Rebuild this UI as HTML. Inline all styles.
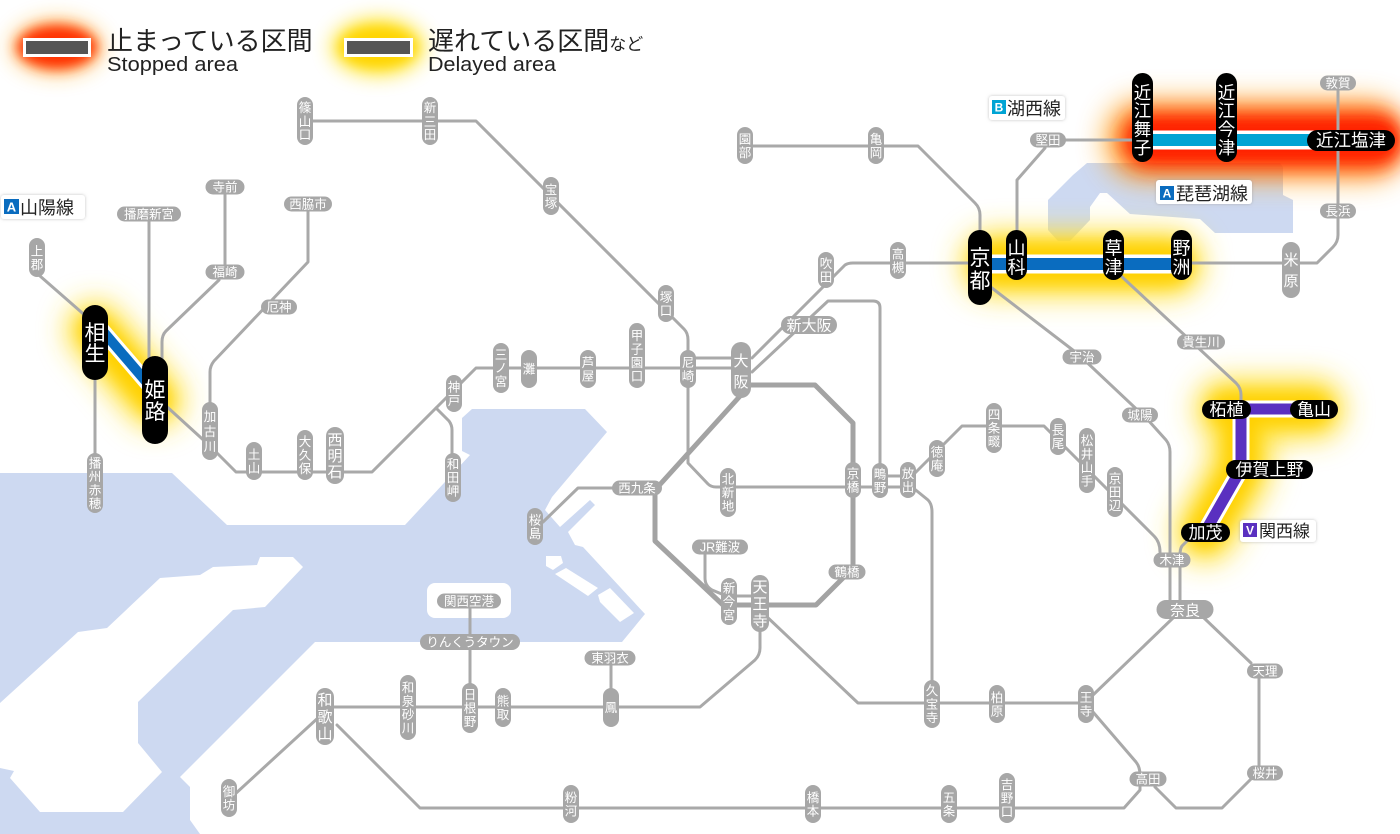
<!DOCTYPE html>
<html><head><meta charset="utf-8">
<style>
html,body{margin:0;padding:0;background:#fff;}
svg{display:block;}
text{font-family:"Liberation Sans","Noto Sans CJK JP",sans-serif;}
.gl{fill:none;stroke:#a9a9a9;stroke-width:3;stroke-linejoin:round;stroke-linecap:round;}
.gp rect{fill:#a7a7a7;}
.gp text{fill:#fff;font-size:12.5px;text-anchor:middle;}
.gb rect{fill:#a7a7a7;}
.gb text{fill:#fff;font-size:15px;text-anchor:middle;}
.bp rect{fill:#000;}
.bp text{fill:#fff;text-anchor:middle;}
</style></head>
<body>
<svg width="1400" height="834" viewBox="0 0 1400 834" xmlns="http://www.w3.org/2000/svg">
<defs>
<filter id="b6" filterUnits="userSpaceOnUse" x="0" y="0" width="1400" height="834"><feGaussianBlur stdDeviation="6"/></filter>
<filter id="b8" filterUnits="userSpaceOnUse" x="0" y="0" width="1400" height="834"><feGaussianBlur stdDeviation="8"/></filter>
<filter id="b10" filterUnits="userSpaceOnUse" x="0" y="0" width="1400" height="834"><feGaussianBlur stdDeviation="10"/></filter>
<filter id="b14" filterUnits="userSpaceOnUse" x="0" y="0" width="1400" height="834"><feGaussianBlur stdDeviation="14"/></filter>
<filter id="sh" x="-20%" y="-40%" width="140%" height="180%"><feDropShadow dx="0" dy="0" stdDeviation="1.5" flood-color="#999" flood-opacity="0.6"/></filter>
</defs>
<rect width="1400" height="834" fill="#fff"/>

<!-- water -->
<g fill="#cdd9f1">
<polygon points="0,473 172,473 227,525 405,525 470,455 462,451 462,418 472,409 585,409 607,432 552,497 545,510 560,527 590,500 595,505 568,532 575,545 583,547 645,614 622,642 315,642 180,777 190,787 190,820 200,834 0,834"/>
<polygon points="1087,163 1280,163 1283,167 1283,195 1293,200 1293,233 1215,233 1200,219 1130,214 1107,193 1100,193 1090,207 1090,220 1070,241 1058,241 1048,230 1048,200 1073,175"/>
</g>
<g fill="#fff">
<polygon points="0,703 78,632 107,628 160,578 200,575 213,567 257,565 260,557 293,557 303,567 265,607 233,610 138,702 138,743 162,772 123,812 40,812 10,778 14,771 0,768"/>
<rect x="427" y="583" width="84" height="35" rx="8"/>
<polygon points="546,556 561,556 563,563 553,570 546,566"/>
<polygon points="555,574 566,568 598,588 588,596"/>
<polygon points="598,595 610,588 634,613 620,622 600,602"/>
</g>

<!-- glows -->
<ellipse cx="57" cy="47" rx="46" ry="28" fill="#ffb020" opacity="0.6" filter="url(#b10)"/>
<ellipse cx="57" cy="47" rx="40" ry="22" fill="#ff3000" filter="url(#b6)"/>
<ellipse cx="378" cy="47" rx="46" ry="28" fill="#ffe000" opacity="0.8" filter="url(#b10)"/>
<ellipse cx="378" cy="47" rx="38" ry="20" fill="#ffd400" filter="url(#b6)"/>

<rect x="1105" y="100" width="300" height="80" rx="36" fill="#ff9a00" opacity="0.75" filter="url(#b14)"/>
<rect x="1122" y="112" width="280" height="56" rx="26" fill="#ff2600" filter="url(#b10)"/>
<rect x="1135" y="124" width="260" height="32" rx="16" fill="#ff2000" filter="url(#b6)"/>

<rect x="962" y="232" width="240" height="64" rx="30" fill="#ffe030" filter="url(#b14)"/>
<rect x="975" y="244" width="215" height="40" rx="20" fill="#ffd000" filter="url(#b8)"/>

<path d="M95,330 L155,400" stroke="#ffe030" stroke-width="56" stroke-linecap="round" fill="none" filter="url(#b14)"/>
<path d="M95,330 L155,400" stroke="#ffd000" stroke-width="30" stroke-linecap="round" fill="none" filter="url(#b8)"/>

<path d="M1226,409 H1314 M1241,409 V469 L1205,532" stroke="#ffe030" stroke-width="60" stroke-linecap="round" stroke-linejoin="round" fill="none" filter="url(#b14)"/>
<path d="M1226,409 H1314 M1241,409 V469 L1205,532" stroke="#ffd000" stroke-width="32" stroke-linecap="round" stroke-linejoin="round" fill="none" filter="url(#b8)"/>

<!-- gray lines -->
<g class="gl">
<path d="M312,121 H476 L684,329 Q688,333 688,340 V463 L708,484 Q711,487 716,487 H908"/>
<path d="M688,358 H741"/>
<path d="M741,368 H476 L448,396 L372,472 H236 L210,446 L165,405"/>
<path d="M436,408 L449,421 Q452,425 452,430 V460"/>
<path d="M40,276 L88,318"/>
<path d="M95,375 V460"/>
<path d="M149,214 V365"/>
<path d="M225,187 V272"/>
<path d="M219,280 L166,331 Q162,335 162,342 V365"/>
<path d="M308,204 V262 L214,361 Q210,366 210,372 V430"/>
<path d="M543,522 L578,488 H636"/>
<path d="M705,553 V578 Q705,586 712,590 L729,597"/>
<path d="M729,596 H760"/>
<path d="M765,615 L858,703 H1086"/>
<path d="M1093,695 L1173,618"/>
<path d="M1093,712 L1136,762 Q1140,767 1140,775 V790 L1124,808 H420 L337,725"/>
<path d="M1155,787 L1176,808 H1222 L1252,778"/>
<path d="M1259,773 V671"/>
<path d="M1204,618 L1251,663"/>
<path d="M334,707 H700 L755,660 Q760,655 760,648 V620"/>
<path d="M470,601 V700"/>
<path d="M611,658 V707"/>
<path d="M234,795 L319,717"/>
<path d="M912,487 L928,500 Q932,504 932,512 V705"/>
<path d="M910,478 L962,426 H1044 L1154,536 Q1160,542 1160,552"/>
<path d="M988,285 L1078,354 L1148,420 L1166,440 Q1170,445 1170,452 V605"/>
<path d="M1192,536 L1182,546 Q1180,549 1180,555 V605"/>
<path d="M1120,275 L1236,383 Q1241,388 1241,395 V405"/>
<path d="M1017,232 V180 L1045,148"/>
<path d="M1066,140 H1132"/>
<path d="M745,146 H918 L975,203 Q980,208 980,215 V232"/>
<path d="M752,358 L845,265 Q848,263 853,263 H970"/>
<path d="M752,372 L828,301 H873 Q880,301 880,308 V463"/>
<path d="M880,476 H908"/>
<path d="M1300,263 H1317 L1333,247 Q1338,242 1338,235 V83"/>
<path d="M1191,263 H1291"/>
<path d="M741,385 H815 L853,423 V568 L816,605 H723 L655,541 V490 L741,395" stroke="#a3a3a3" stroke-width="5"/>
</g>

<!-- colored bands -->
<g fill="none" stroke-linejoin="miter">
<path d="M980,264 H1181" stroke="#fff" stroke-width="19"/>
<path d="M980,264 H1181" stroke="#0a6cbf" stroke-width="12"/>
<path d="M1142,140 H1350" stroke="#fff" stroke-width="19"/>
<path d="M1142,140 H1350" stroke="#00a4d4" stroke-width="12"/>
<path d="M95,322 L155,392" stroke="#fff" stroke-width="16"/>
<path d="M95,322 L155,392" stroke="#0a6cbf" stroke-width="10"/>
<path d="M1226,409 H1314 M1241,409 V469 L1205,532" stroke="#fff" stroke-width="17"/>
<path d="M1226,409 H1314 M1241,409 V469 L1205,532" stroke="#5a30c0" stroke-width="11"/>
</g>

<!-- legend -->
<rect x="23" y="38" width="68" height="19" fill="#fff"/>
<rect x="26" y="41" width="62" height="13" fill="#555"/>
<rect x="344" y="38" width="69" height="19" fill="#fff"/>
<rect x="347" y="41" width="63" height="13" fill="#555"/>
<text x="107" y="50" font-size="26" fill="#222">止まっている区間</text>
<text x="107" y="71" font-size="20" fill="#222" textLength="131" lengthAdjust="spacingAndGlyphs">Stopped area</text>
<text x="428" y="50" font-size="26" fill="#222">遅れている区間<tspan font-size="17">など</tspan></text>
<text x="428" y="71" font-size="20" fill="#222" textLength="128" lengthAdjust="spacingAndGlyphs">Delayed area</text>

<!-- line name labels -->
<g>
<rect x="1" y="195" width="84" height="24" rx="3" fill="#fff" filter="url(#sh)"/>
<rect x="4" y="199" width="15" height="15" fill="#0a6cbf"/>
<text x="11.5" y="211.5" font-size="13" font-weight="bold" fill="#fff" text-anchor="middle">A</text>
<text x="20" y="214" font-size="18" fill="#222">山陽線</text>

<rect x="989" y="96" width="76" height="24" rx="3" fill="#fff" filter="url(#sh)"/>
<rect x="992" y="100" width="14" height="14" fill="#00a4d4"/>
<text x="999" y="111.5" font-size="12" font-weight="bold" fill="#fff" text-anchor="middle">B</text>
<text x="1007" y="115" font-size="18" fill="#222">湖西線</text>

<rect x="1156" y="180" width="96" height="24" rx="3" fill="#fff" filter="url(#sh)"/>
<rect x="1160" y="186" width="14" height="14" fill="#0a6cbf"/>
<text x="1167" y="197.5" font-size="12" font-weight="bold" fill="#fff" text-anchor="middle">A</text>
<text x="1176" y="200" font-size="18" fill="#222">琵琶湖線</text>

<rect x="1240" y="520" width="76" height="22" rx="3" fill="#fff" filter="url(#sh)"/>
<rect x="1243" y="523" width="14" height="14" fill="#5a30c0"/>
<text x="1250" y="534.5" font-size="12" font-weight="bold" fill="#fff" text-anchor="middle">V</text>
<text x="1259" y="537" font-size="17" fill="#222">関西線</text>
</g>

<!-- gray vertical pills -->
<g class="gp">
<rect x="297" y="97" width="16" height="48" rx="8"/><text><tspan x="305" y="112">篠</tspan><tspan x="305" y="126">山</tspan><tspan x="305" y="139">口</tspan></text>
<rect x="422" y="97" width="16" height="48" rx="8"/><text><tspan x="430" y="112">新</tspan><tspan x="430" y="126">三</tspan><tspan x="430" y="139">田</tspan></text>
<rect x="543" y="177" width="16" height="38" rx="8"/><text><tspan x="551" y="194">宝</tspan><tspan x="551" y="207.5">塚</tspan></text>
<rect x="658" y="285" width="16" height="37" rx="8"/><text><tspan x="666" y="301.5">塚</tspan><tspan x="666" y="315">口</tspan></text>
<rect x="680" y="350" width="16" height="38" rx="8"/><text><tspan x="688" y="367">尼</tspan><tspan x="688" y="380.5">崎</tspan></text>
<rect x="629" y="323" width="16" height="65" rx="8"/><text><tspan x="637" y="340">甲</tspan><tspan x="637" y="353.5">子</tspan><tspan x="637" y="367">園</tspan><tspan x="637" y="380.5">口</tspan></text>
<rect x="580" y="350" width="16" height="38" rx="8"/><text><tspan x="588" y="367">芦</tspan><tspan x="588" y="380.5">屋</tspan></text>
<rect x="521" y="350" width="16" height="38" rx="8"/><text><tspan x="529" y="373.7">灘</tspan></text>
<rect x="493" y="343" width="16" height="50" rx="8"/><text><tspan x="501" y="359">三</tspan><tspan x="501" y="372.7">ノ</tspan><tspan x="501" y="386">宮</tspan></text>
<rect x="446" y="375" width="16" height="37" rx="8"/><text><tspan x="454" y="391.5">神</tspan><tspan x="454" y="405">戸</tspan></text>
<rect x="445" y="453" width="16" height="49" rx="8"/><text><tspan x="453" y="468.7">和</tspan><tspan x="453" y="482.2">田</tspan><tspan x="453" y="495.7">岬</tspan></text>
<rect x="297" y="430" width="16" height="50" rx="8"/><text><tspan x="305" y="446.2">大</tspan><tspan x="305" y="459.7">久</tspan><tspan x="305" y="473.2">保</tspan></text>
<rect x="246" y="442" width="16" height="38" rx="8"/><text><tspan x="254" y="459">土</tspan><tspan x="254" y="472.5">山</tspan></text>
<rect x="202" y="402" width="16" height="58" rx="8"/><text font-size="13.5"><tspan x="210" y="421">加</tspan><tspan x="210" y="436">古</tspan><tspan x="210" y="451">川</tspan></text>
<rect x="87" y="453" width="16" height="60" rx="8"/><text><tspan x="95" y="467.5">播</tspan><tspan x="95" y="481">州</tspan><tspan x="95" y="494.5">赤</tspan><tspan x="95" y="508">穂</tspan></text>
<rect x="29" y="238" width="16" height="39" rx="8"/><text><tspan x="37" y="255.5">上</tspan><tspan x="37" y="269">郡</tspan></text>
<rect x="818" y="252" width="16" height="36" rx="8"/><text><tspan x="826" y="268">吹</tspan><tspan x="826" y="281.5">田</tspan></text>
<rect x="890" y="242" width="16" height="37" rx="8"/><text><tspan x="898" y="258.5">高</tspan><tspan x="898" y="272">槻</tspan></text>
<rect x="737" y="127" width="16" height="37" rx="8"/><text><tspan x="745" y="143.5">園</tspan><tspan x="745" y="157">部</tspan></text>
<rect x="868" y="127" width="16" height="37" rx="8"/><text><tspan x="876" y="143.5">亀</tspan><tspan x="876" y="157">岡</tspan></text>
<rect x="527" y="508" width="16" height="37" rx="8"/><text><tspan x="535" y="524.5">桜</tspan><tspan x="535" y="538">島</tspan></text>
<rect x="720" y="468" width="16" height="49" rx="8"/><text><tspan x="728" y="483.7">北</tspan><tspan x="728" y="497.2">新</tspan><tspan x="728" y="510.7">地</tspan></text>
<rect x="845" y="462" width="16" height="36" rx="8"/><text><tspan x="853" y="478">京</tspan><tspan x="853" y="491.5">橋</tspan></text>
<rect x="872" y="463" width="16" height="35" rx="8"/><text><tspan x="880" y="478.5">鴫</tspan><tspan x="880" y="492">野</tspan></text>
<rect x="900" y="462" width="16" height="36" rx="8"/><text><tspan x="908" y="478">放</tspan><tspan x="908" y="491.5">出</tspan></text>
<rect x="929" y="440" width="16" height="37" rx="8"/><text><tspan x="937" y="456.5">徳</tspan><tspan x="937" y="470">庵</tspan></text>
<rect x="986" y="403" width="16" height="50" rx="8"/><text><tspan x="994" y="419.2">四</tspan><tspan x="994" y="432.7">条</tspan><tspan x="994" y="446.2">畷</tspan></text>
<rect x="1050" y="418" width="16" height="37" rx="8"/><text><tspan x="1058" y="434.5">長</tspan><tspan x="1058" y="448">尾</tspan></text>
<rect x="1079" y="428" width="16" height="65" rx="8"/><text><tspan x="1087" y="445">松</tspan><tspan x="1087" y="458.5">井</tspan><tspan x="1087" y="472">山</tspan><tspan x="1087" y="485.5">手</tspan></text>
<rect x="1107" y="467" width="16" height="50" rx="8"/><text><tspan x="1115" y="483.2">京</tspan><tspan x="1115" y="496.7">田</tspan><tspan x="1115" y="510.2">辺</tspan></text>
<rect x="721" y="578" width="16" height="47" rx="8"/><text><tspan x="729" y="592.7">新</tspan><tspan x="729" y="606.2">今</tspan><tspan x="729" y="619.7">宮</tspan></text>
<rect x="924" y="680" width="16" height="48" rx="8"/><text><tspan x="932" y="695.2">久</tspan><tspan x="932" y="708.7">宝</tspan><tspan x="932" y="722.2">寺</tspan></text>
<rect x="989" y="685" width="16" height="38" rx="8"/><text><tspan x="997" y="702">柏</tspan><tspan x="997" y="715.5">原</tspan></text>
<rect x="1078" y="685" width="16" height="38" rx="8"/><text><tspan x="1086" y="702">王</tspan><tspan x="1086" y="715.5">寺</tspan></text>
<rect x="999" y="773" width="16" height="50" rx="8"/><text><tspan x="1007" y="789.2">吉</tspan><tspan x="1007" y="802.7">野</tspan><tspan x="1007" y="816.2">口</tspan></text>
<rect x="941" y="785" width="16" height="38" rx="8"/><text><tspan x="949" y="802">五</tspan><tspan x="949" y="815.5">条</tspan></text>
<rect x="805" y="785" width="16" height="38" rx="8"/><text><tspan x="813" y="802">橋</tspan><tspan x="813" y="815.5">本</tspan></text>
<rect x="563" y="785" width="16" height="38" rx="8"/><text><tspan x="571" y="802">粉</tspan><tspan x="571" y="815.5">河</tspan></text>
<rect x="221" y="779" width="16" height="38" rx="8"/><text><tspan x="229" y="796">御</tspan><tspan x="229" y="809.5">坊</tspan></text>
<rect x="400" y="675" width="16" height="65" rx="8"/><text><tspan x="408" y="692">和</tspan><tspan x="408" y="705.5">泉</tspan><tspan x="408" y="719">砂</tspan><tspan x="408" y="732.5">川</tspan></text>
<rect x="462" y="683" width="16" height="50" rx="8"/><text><tspan x="470" y="699.2">日</tspan><tspan x="470" y="712.7">根</tspan><tspan x="470" y="726.2">野</tspan></text>
<rect x="495" y="688" width="16" height="39" rx="8"/><text><tspan x="503" y="705.5">熊</tspan><tspan x="503" y="719">取</tspan></text>
<rect x="603" y="688" width="16" height="39" rx="8"/><text><tspan x="611" y="712.2">鳳</tspan></text>
</g>

<!-- bigger gray vertical pills -->
<g class="gb">
<rect x="326" y="427" width="18" height="57" rx="9"/><text font-size="14.5"><tspan x="335" y="445">西</tspan><tspan x="335" y="461">明</tspan><tspan x="335" y="477">石</tspan></text>
<rect x="1282" y="242" width="18" height="56" rx="9"/><text><tspan x="1291" y="265">米</tspan><tspan x="1291" y="286">原</tspan></text>
<rect x="751" y="575" width="18" height="57" rx="9"/><text><tspan x="760" y="592">天</tspan><tspan x="760" y="609">王</tspan><tspan x="760" y="626">寺</tspan></text>
<rect x="316" y="688" width="18" height="57" rx="9"/><text><tspan x="325" y="705">和</tspan><tspan x="325" y="722">歌</tspan><tspan x="325" y="739">山</tspan></text>
<rect x="731" y="342" width="20" height="56" rx="10"/><text font-size="17"><tspan x="741" y="366">大</tspan><tspan x="741" y="387">阪</tspan></text>
</g>

<!-- gray horizontal pills -->
<g class="gp">
<rect x="117" y="206.5" width="64" height="15" rx="7.5"/><text x="149" y="218.5">播磨新宮</text>
<rect x="205.5" y="179.5" width="39" height="15" rx="7.5"/><text x="225" y="191.5">寺前</text>
<rect x="284" y="196.5" width="48" height="15" rx="7.5"/><text x="308" y="208.5">西脇市</text>
<rect x="205.5" y="264.5" width="39" height="15" rx="7.5"/><text x="225" y="276.5">福崎</text>
<rect x="261" y="299.5" width="36" height="15" rx="7.5"/><text x="279" y="311.5">厄神</text>
<rect x="612" y="480.5" width="50" height="15" rx="7.5"/><text x="637" y="492.5">西九条</text>
<rect x="692" y="539.5" width="56" height="15" rx="7.5"/><text x="720" y="551.5">JR難波</text>
<rect x="828.5" y="564.5" width="37" height="15" rx="7.5"/><text x="847" y="576.5">鶴橋</text>
<rect x="1030" y="132.5" width="36" height="15" rx="7.5"/><text x="1048" y="144.5">堅田</text>
<rect x="1320" y="203.5" width="36" height="15" rx="7.5"/><text x="1338" y="215.5">長浜</text>
<rect x="1320" y="75.5" width="36" height="15" rx="7.5"/><text x="1338" y="87.5">敦賀</text>
<rect x="1062.5" y="349.5" width="39" height="15" rx="7.5"/><text x="1082" y="361.5">宇治</text>
<rect x="1122" y="407.5" width="36" height="15" rx="7.5"/><text x="1140" y="419.5">城陽</text>
<rect x="1177" y="334.5" width="48" height="15" rx="7.5"/><text x="1201" y="346.5">貴生川</text>
<rect x="1153.5" y="552.5" width="37" height="15" rx="7.5"/><text x="1172" y="564.5">木津</text>
<rect x="1247" y="663.5" width="36" height="15" rx="7.5"/><text x="1265" y="675.5">天理</text>
<rect x="1247" y="765.5" width="36" height="15" rx="7.5"/><text x="1265" y="777.5">桜井</text>
<rect x="1129.5" y="771.5" width="37" height="15" rx="7.5"/><text x="1148" y="783.5">高田</text>
<rect x="584.5" y="650.5" width="51" height="15" rx="7.5"/><text x="610" y="662.5">東羽衣</text>
<rect x="420" y="634" width="100" height="16" rx="8"/><text x="470" y="646.5">りんくうタウン</text>
<rect x="437" y="593.5" width="64" height="15" rx="7.5"/><text x="469" y="605.5">関西空港</text>
</g>
<g class="gb">
<rect x="781" y="316" width="56" height="18" rx="9"/><text x="809" y="330.5">新大阪</text>
<rect x="1156.5" y="600" width="57" height="19" rx="9.5"/><text x="1185" y="615.5" font-size="16">奈良</text>
</g>

<!-- black pills -->
<g class="bp">
<rect x="82" y="305" width="26" height="75" rx="13"/><text font-size="21"><tspan x="95" y="340">相</tspan><tspan x="95" y="361">生</tspan></text>
<rect x="142" y="356" width="26" height="88" rx="13"/><text font-size="21"><tspan x="155" y="397">姫</tspan><tspan x="155" y="419">路</tspan></text>
<rect x="968" y="230" width="24" height="75" rx="12"/><text font-size="21"><tspan x="980" y="265">京</tspan><tspan x="980" y="288">都</tspan></text>
<rect x="1006" y="230" width="21" height="50" rx="10.5"/><text font-size="18"><tspan x="1016.5" y="254.5">山</tspan><tspan x="1016.5" y="273.5">科</tspan></text>
<rect x="1103" y="230" width="21" height="50" rx="10.5"/><text font-size="18"><tspan x="1113.5" y="254.5">草</tspan><tspan x="1113.5" y="273.5">津</tspan></text>
<rect x="1171" y="230" width="21" height="50" rx="10.5"/><text font-size="18"><tspan x="1181.5" y="254.5">野</tspan><tspan x="1181.5" y="273.5">洲</tspan></text>
<rect x="1132" y="73" width="21" height="89" rx="10.5"/><text font-size="17.5"><tspan x="1142.5" y="99">近</tspan><tspan x="1142.5" y="117">江</tspan><tspan x="1142.5" y="135.5">舞</tspan><tspan x="1142.5" y="154">子</tspan></text>
<rect x="1216" y="73" width="21" height="89" rx="10.5"/><text font-size="17.5"><tspan x="1226.5" y="99">近</tspan><tspan x="1226.5" y="117">江</tspan><tspan x="1226.5" y="135.5">今</tspan><tspan x="1226.5" y="154">津</tspan></text>
<rect x="1307" y="130" width="88" height="21" rx="10.5"/><text x="1351" y="146.5" font-size="17.5">近江塩津</text>
<rect x="1202" y="400" width="49" height="19" rx="9.5"/><text x="1226.5" y="415.5" font-size="17">柘植</text>
<rect x="1290" y="400" width="48" height="19" rx="9.5"/><text x="1314" y="415.5" font-size="17">亀山</text>
<rect x="1226" y="460" width="87" height="19" rx="9.5"/><text x="1269.5" y="475.5" font-size="17">伊賀上野</text>
<rect x="1181" y="523" width="49" height="19" rx="9.5"/><text x="1205.5" y="538.5" font-size="17">加茂</text>
</g>
</svg>
</body></html>
